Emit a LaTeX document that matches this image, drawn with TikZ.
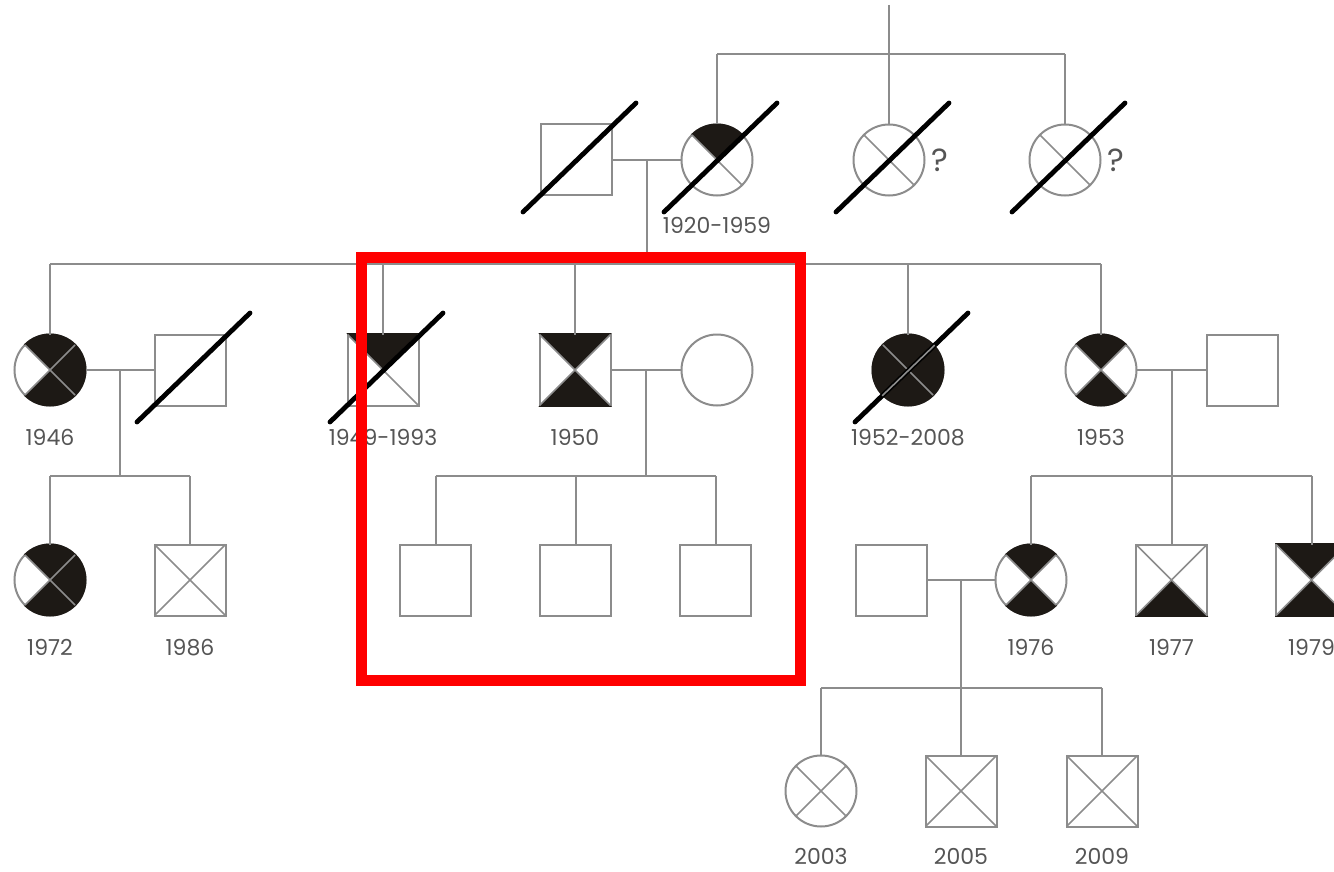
\documentclass[tikz,border=0pt]{standalone}
\usepackage{fontspec}
\setmainfont{Poppins}
\usepackage{xcolor}
\usepackage{tikz}
\usetikzlibrary{calc, positioning}

\definecolor{pedline}{HTML}{8C8C8C}
\definecolor{pedfill}{HTML}{1D1915}
\definecolor{pedtext}{HTML}{555555}

% quarter shading (top, bottom, left, right), clipped to the symbol
\newcommand{\shadeT}[1]{\fill[affected] (#1.center) -- ++(-50,-50) -- ++(100,0) -- cycle;}
\newcommand{\shadeB}[1]{\fill[affected] (#1.center) -- ++(-50,50) -- ++(100,0) -- cycle;}
\newcommand{\shadeL}[1]{\fill[affected] (#1.center) -- ++(-50,-50) -- ++(0,100) -- cycle;}
\newcommand{\shadeR}[1]{\fill[affected] (#1.center) -- ++(50,-50) -- ++(0,100) -- cycle;}
\newcommand{\clipM}[1]{\clip (#1.center) ++(-36.5,-36.5) rectangle ++(73,73);}
\newcommand{\clipF}[1]{\clip (#1.center) circle[radius=36.5pt];}
\newcommand{\pedcross}[1]{\draw[xline] (#1.north west) -- (#1.south east) (#1.north east) -- (#1.south west);}
\newcommand{\dead}[1]{\draw[deceased] (#1.center) ++(-53,52) -- ++(113,-109);}

\begin{document}
\begin{tikzpicture}[
    x=1pt, y=-1pt,
    male/.style={rectangle, draw=pedline, line width=2pt, minimum size=71pt, inner sep=0pt, outer sep=0pt},
    female/.style={circle, draw=pedline, line width=2pt, minimum size=71pt, inner sep=0pt, outer sep=0pt},
    pedigree/.style={draw=pedline, line width=2pt},
    affected/.style={fill=pedfill},
    xline/.style={draw=pedline, line width=1.6pt},
    deceased/.style={draw=black, line width=4.8pt, line cap=round},
    yr/.style={text=pedtext, font=\fontsize{22}{26}\selectfont, inner sep=0pt},
    qmark/.style={text=pedtext, font=\fontsize{32}{36}\selectfont, inner sep=0pt},
    highlight/.style={draw=red, line width=11pt}
]
\clip (0,0) rectangle (1334,872);

% Nodes
\node[male] (gf) at (576,160) {};
\node[female] (gm) at (717,160) {};
\node[female] (ga1) at (889,160) {};
\node[female] (ga2) at (1065,160) {};

\node[female] (p1946) at (50,370) {};
\node[male] (h1946) at (190,370) {};
\node[male] (p1949) at (383,370) {};
\node[male] (p1950) at (575,370) {};
\node[female] (w1950) at (717,370) {};
\node[female] (p1952) at (908,370) {};
\node[female] (p1953) at (1101,370) {};
\node[male] (h1953) at (1242,370) {};

\node[female] (p1972) at (50,580) {};
\node[male] (p1986) at (190,580) {};
\node[male] (c1) at (435.5,580) {};
\node[male] (c2) at (575.5,580) {};
\node[male] (c3) at (715.5,580) {};
\node[male] (h1976) at (891,580) {};
\node[female] (p1976) at (1031,580) {};
\node[male] (p1977) at (1171.5,580) {};
\node[male] (p1979) at (1311.5,580) {};

\node[female] (p2003) at (821,791) {};
\node[male] (p2005) at (961,791) {};
\node[male] (p2009) at (1102,791) {};

% Labels
\node[yr, below=22pt of gm] (l1920) {1920-1959};
\node[qmark, right=7pt of ga1] (q1) {?};
\node[qmark, right=7pt of ga2] (q2) {?};
\node[yr, below=24pt of p1946] (l1946) {1946};
\node[yr, below=24pt of p1949] (l1949) {1949-1993};
\node[yr, below=24pt of p1950] (l1950) {1950};
\node[yr, below=24pt of p1952] (l1952) {1952-2008};
\node[yr, below=24pt of p1953] (l1953) {1953};
\node[yr, below=23.5pt of p1972] (l1972) {1972};
\node[yr, below=23.5pt of p1986] (l1986) {1986};
\node[yr, below=23.5pt of p1976] (l1976) {1976};
\node[yr, below=23.5pt of p1977] (l1977) {1977};
\node[yr, below=23.5pt of p1979] (l1979) {1979};
\node[yr, below=22pt of p2003] (l2003) {2003};
\node[yr, below=22pt of p2005] (l2005) {2005};
\node[yr, below=22pt of p2009] (l2009) {2009};

% Shading
\begin{scope} \clipF{gm} \shadeT{gm} \end{scope}
\begin{scope} \clipF{p1946} \shadeT{p1946} \shadeR{p1946} \shadeB{p1946} \end{scope}
\begin{scope} \clipM{p1949} \shadeT{p1949} \end{scope}
\begin{scope} \clipM{p1950} \shadeT{p1950} \shadeB{p1950} \end{scope}
\begin{scope} \clipF{p1952} \shadeT{p1952} \shadeR{p1952} \shadeB{p1952} \shadeL{p1952} \end{scope}
\begin{scope} \clipF{p1953} \shadeT{p1953} \shadeB{p1953} \end{scope}
\begin{scope} \clipF{p1972} \shadeT{p1972} \shadeR{p1972} \shadeB{p1972} \end{scope}
\begin{scope} \clipF{p1976} \shadeT{p1976} \shadeB{p1976} \end{scope}
\begin{scope} \clipM{p1977} \shadeB{p1977} \end{scope}
\begin{scope} \clipM{p1979} \shadeT{p1979} \shadeB{p1979} \end{scope}

\foreach \n in {gm, ga1, ga2, p1946, p1949, p1950, p1952, p1953, p1972, p1986,
                p1976, p1977, p1979, p2003, p2005, p2009}
    \pedcross{\n};

% Lines
\coordinate (root) at (889,5);
\coordinate (sib1) at (0,54);
\coordinate (sib2) at (0,264);
\coordinate (sib3) at (0,476);
\coordinate (sib4) at (0,688);
\coordinate (u1) at ($(gf)!0.5!(gm)$);
\coordinate (u2) at ($(p1946)!0.5!(h1946)$);
\coordinate (u3) at ($(p1950)!0.5!(w1950)$);
\coordinate (u4) at ($(p1953)!0.5!(h1953)$);
\coordinate (u5) at ($(h1976)!0.5!(p1976)$);

\draw[pedigree] (root) -- (root |- sib1);
\draw[pedigree] (gm |- sib1) -- (ga2 |- sib1);
\foreach \n in {gm, ga1, ga2}
    \draw[pedigree] (\n |- sib1) -- (\n);
\draw[pedigree] (gf) -- (gm);

\draw[pedigree] (u1) -- (u1 |- sib2);
\draw[pedigree] (p1946 |- sib2) -- (p1953 |- sib2);
\foreach \n in {p1946, p1949, p1950, p1952, p1953}
    \draw[pedigree] (\n |- sib2) -- (\n);
\draw[pedigree] (p1946) -- (h1946);
\draw[pedigree] (p1950) -- (w1950);
\draw[pedigree] (p1953) -- (h1953);

\draw[pedigree] (u2) -- (u2 |- sib3);
\draw[pedigree] (p1972 |- sib3) -- (p1986 |- sib3);
\draw[pedigree] (u3) -- (u3 |- sib3);
\draw[pedigree] (c1 |- sib3) -- (c3 |- sib3);
\draw[pedigree] (u4) -- (p1977);
\draw[pedigree] (p1976 |- sib3) -- (p1979 |- sib3);
\foreach \n in {p1972, p1986, c1, c2, c3, p1976, p1979}
    \draw[pedigree] (\n |- sib3) -- (\n);
\draw[pedigree] (h1976) -- (p1976);

\draw[pedigree] (u5) -- (p2005);
\draw[pedigree] (p2003 |- sib4) -- (p2009 |- sib4);
\foreach \n in {p2003, p2009}
    \draw[pedigree] (\n |- sib4) -- (\n);

% Deceased
\foreach \n in {gf, gm, ga1, ga2, h1946, p1949, p1952}
    \dead{\n};
\begin{scope}
    \clipF{p1952}
    \draw[xline] (p1952.center) ++(-53,52) -- ++(113,-109);
\end{scope}

% Highlight
\draw[highlight] (361.5,257.5) rectangle (800,680);

\end{tikzpicture}
\end{document}
